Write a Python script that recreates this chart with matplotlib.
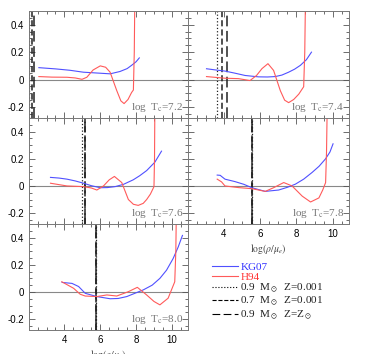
import numpy as np
import matplotlib.pyplot as plt
from matplotlib.lines import Line2D
from matplotlib.ticker import MultipleLocator, FuncFormatter

plt.rcParams['mathtext.fontset'] = 'stix'
plt.rcParams['font.family'] = ['Liberation Sans', 'DejaVu Sans']

# log T_c of each panel
temps = ['7.2', '7.4', '7.6', '7.8', '8.0']

# KG07 curves (blue)
kg_x_72 = [2.57, 3.5, 4.3, 5.05, 5.8, 6.55, 7.1, 7.5, 7.75, 8.0, 8.18]
kg_y_72 = [0.087, 0.078, 0.068, 0.054, 0.048, 0.042, 0.059, 0.08, 0.104, 0.13, 0.158]
kg_x_74 = [3.04, 3.5, 4.06, 4.6, 5.17, 5.9, 6.4, 6.83, 7.2, 7.57, 7.9, 8.22, 8.55, 8.83]
kg_y_74 = [0.079, 0.071, 0.062, 0.047, 0.030, 0.02, 0.019, 0.022, 0.033, 0.054, 0.076, 0.104, 0.145, 0.20]
kg_x_76 = [3.22, 3.7, 4.14, 4.6, 5.07, 5.5, 6.0, 6.4, 6.83, 7.3, 7.84, 8.2, 8.59, 9.05, 9.42]
kg_y_76 = [0.063, 0.058, 0.05, 0.037, 0.02, 0.002, -0.013, -0.012, -0.005, 0.012, 0.045, 0.075, 0.113, 0.175, 0.256]
kg_x_78 = [3.63, 3.8, 3.87, 4.06, 4.61, 5.1, 5.54, 6.28, 7.02, 7.5, 7.94, 8.4, 8.87, 9.25, 9.61, 9.85, 10.02]
kg_y_78 = [0.08, 0.078, 0.07, 0.05, 0.032, 0.012, -0.013, -0.04, -0.03, -0.01, 0.013, 0.05, 0.10, 0.145, 0.20, 0.25, 0.31]
kg_x_80 = [3.87, 4.42, 4.79, 5.16, 5.81, 6.55, 7.0, 7.48, 8.4, 8.9, 9.33, 9.7, 10.07, 10.35, 10.59]
kg_y_80 = [0.07, 0.063, 0.04, -0.01, -0.034, -0.05, -0.048, -0.034, 0.015, 0.05, 0.10, 0.16, 0.246, 0.33, 0.416]

# H94 curves (red)
h_x_72 = [2.57, 3.3, 4.14, 4.6, 4.98, 5.25, 5.6, 6.0, 6.3, 6.55, 6.92, 7.15, 7.33, 7.55, 7.75, 7.85, 7.9, 7.93]
h_y_72 = [0.022, 0.018, 0.017, 0.012, 0.002, 0.017, 0.07, 0.10, 0.09, 0.054, -0.08, -0.155, -0.175, -0.145, -0.094, -0.076, 0.2, 0.6]
h_x_74 = [3.04, 4.06, 4.8, 5.44, 5.8, 6.1, 6.43, 6.74, 7.11, 7.35, 7.57, 7.85, 8.13, 8.4, 8.46, 8.5]
h_y_74 = [0.022, 0.01, 0.007, -0.007, 0.03, 0.08, 0.116, 0.067, -0.08, -0.15, -0.168, -0.145, -0.106, -0.052, 0.2, 0.6]
h_x_76 = [3.22, 4.14, 5.07, 5.5, 5.81, 6.18, 6.5, 6.79, 7.2, 7.57, 7.85, 8.12, 8.4, 8.59, 8.8, 9.0, 9.03, 9.05]
h_y_76 = [0.02, 0.0, -0.005, -0.015, -0.03, 0.0, 0.045, 0.07, 0.025, -0.1, -0.135, -0.143, -0.128, -0.1, -0.06, -0.005, 0.2, 0.6]
h_x_78 = [3.63, 3.87, 4.06, 4.8, 5.54, 6.28, 6.74, 7.3, 7.76, 8.32, 8.78, 9.24, 9.45, 9.61, 9.66, 9.7]
h_y_78 = [0.05, 0.03, 0.0, -0.012, -0.02, -0.04, -0.013, 0.025, 0.0, -0.075, -0.118, -0.088, -0.03, 0.025, 0.25, 0.6]
h_x_80 = [3.85, 4.51, 4.88, 5.16, 5.81, 6.37, 6.92, 7.57, 8.07, 8.59, 9.0, 9.33, 9.79, 10.16, 10.22, 10.25]
h_y_80 = [0.075, 0.027, -0.017, -0.03, -0.034, -0.022, -0.03, 0.002, 0.034, -0.022, -0.07, -0.095, -0.046, 0.075, 0.3, 0.6]

kg_x = [kg_x_72, kg_x_74, kg_x_76, kg_x_78, kg_x_80]
kg_y = [kg_y_72, kg_y_74, kg_y_76, kg_y_78, kg_y_80]
h_x = [h_x_72, h_x_74, h_x_76, h_x_78, h_x_80]
h_y = [h_y_72, h_y_74, h_y_76, h_y_78, h_y_80]

# model positions (vertical lines)
dot_09_low = [2.02, 3.6, 5.0, 5.53, 5.74]
dash_07_low = [2.2, 3.9, 5.12, 5.55, 5.76]
long_09_sun = [2.32, 4.17, 5.15, 5.56, 5.77]

W, H = 369, 354
fig = plt.figure(figsize=(W / 100, H / 100), dpi=100)

# axes boxes in pixels: (left, top, width, height)
boxes = [(29, 11, 159, 107), (188, 11, 161, 107),
         (29, 118, 159, 106), (188, 118, 161, 106),
         (29, 224, 159, 106)]

blue = '#5050ff'
red = '#ff5a5a'
longdash = (0, (7, 3))

def yfmt(v, pos):
    if abs(v) < 1e-9:
        return '0'
    return '%g' % v

for i, (l, t, w, h) in enumerate(boxes):
    ax = fig.add_axes([l / W, 1 - (t + h) / H, w / W, h / H])
    ax.axhline(0, color='#888888', lw=0.8, zorder=1)
    ax.axvline(dot_09_low[i], color='#222222', ls=':', lw=0.9)
    ax.axvline(dash_07_low[i], color='#222222', ls='--', lw=1.1, dashes=(4, 2))
    ax.axvline(long_09_sun[i], color='#222222', ls=longdash, lw=1.1)
    ax.plot(kg_x[i], kg_y[i], color=blue, lw=0.8)
    ax.plot(h_x[i], h_y[i], color=red, lw=0.8)
    ax.set_xlim(2.02, 10.9)
    ax.set_ylim(-0.28, 0.5)
    ax.xaxis.set_major_locator(MultipleLocator(2))
    ax.xaxis.set_minor_locator(MultipleLocator(0.5))
    ax.yaxis.set_major_locator(MultipleLocator(0.2))
    ax.yaxis.set_minor_locator(MultipleLocator(0.05))
    ax.tick_params(which='both', direction='in', top=True, right=True,
                   labelsize=7, color='#555555', width=0.6)
    ax.tick_params(which='major', length=4)
    ax.tick_params(which='minor', length=2)
    for s in ax.spines.values():
        s.set_color('#777777')
        s.set_linewidth(0.7)
    ax.yaxis.set_major_formatter(FuncFormatter(yfmt))
    if i % 2 == 1:
        ax.set_yticklabels([])
    if i in (0, 1, 2):
        ax.set_xticklabels([])
    else:
        ax.set_xlabel(r'$\log(\rho/\mu_e)$', fontsize=7, color='#444444', labelpad=2)
    ax.text(0.97, 0.04, r'log  T$_{\rm c}$=' + temps[i], transform=ax.transAxes,
            ha='right', va='bottom', fontsize=8, color='#777777',
            family='Liberation Serif')

handles = [Line2D([], [], color=blue, lw=0.8),
           Line2D([], [], color=red, lw=0.8),
           Line2D([], [], color='k', ls=':', lw=0.8),
           Line2D([], [], color='k', ls='--', lw=0.8),
           Line2D([], [], color='k', ls=longdash, lw=0.8)]
labels = ['KG07', 'H94', r'0.9  M$_\odot$  Z=0.001', r'0.7  M$_\odot$  Z=0.001',
          r'0.9  M$_\odot$  Z=Z$_\odot$']
fig.legend(handles, labels, loc='upper left', bbox_to_anchor=(206 / W, 1 - 257 / H),
           frameon=False, handlelength=2.4, handletextpad=0.2,
           labelspacing=0.0, borderpad=0,
           labelcolor=['#3333ff', '#ff3333', '#222222', '#222222', '#222222'],
           prop={'family': 'Liberation Serif', 'size': 8})

fig.savefig('out.png', dpi=100)
